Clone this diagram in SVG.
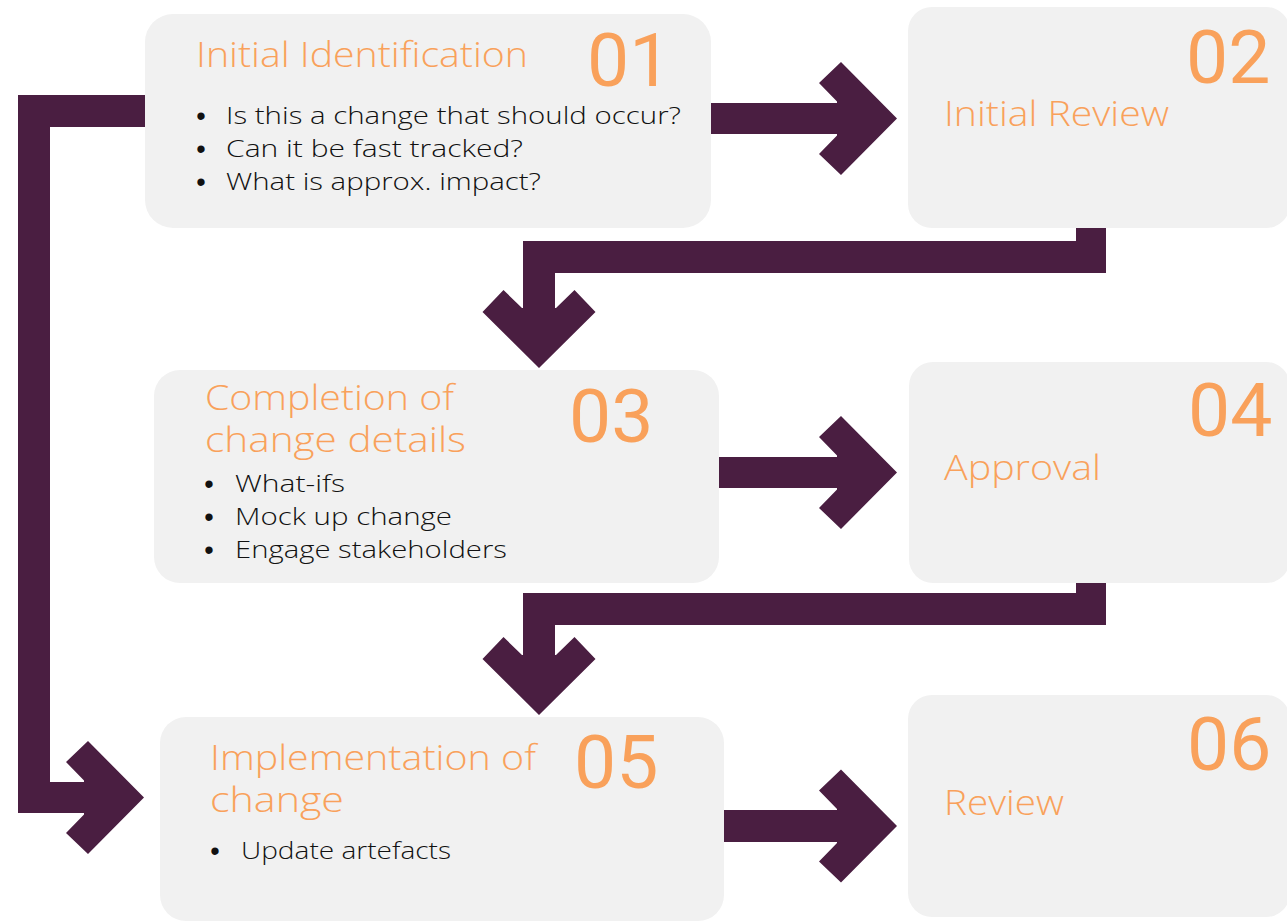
<svg xmlns="http://www.w3.org/2000/svg" xmlns:xlink="http://www.w3.org/1999/xlink" width="1287" height="923" viewBox="0 0 1287 923">
  <style>
    .box { fill: #F1F1F1; }
    .flow { fill: #4A1E41; }
    .title { font-family: "Open Sans", "Noto Sans", "DejaVu Sans", sans-serif; font-size: 34px; font-weight: 300; fill: #F9A15B; }
    .num { font-family: Roboto, "Liberation Sans", sans-serif; font-size: 75px; fill: #F9A15B; }
    .item { font-family: "Open Sans", "Noto Sans", "DejaVu Sans", sans-serif; font-size: 23px; font-weight: 300; fill: #111111; }
    .dot { font-family: "Liberation Sans", sans-serif; font-size: 27px; fill: #111111; text-anchor: middle; }
  </style>
  <defs>
    <!-- thick chevron head, pointing right, tip at the origin -->
    <path id="head" d="M0,0 L-56,-56.5 L-78,-35.5 L-60,-17 L-60,17 L-78,35.5 L-56,56.5 Z"/>
  </defs>

  <g id="connectors" class="flow">
    <!-- 01 -> 05 loop down the left side -->
    <polygon points="160,95 18,95 18,813 90,813 90,782 50,782 50,127 160,127"/>
    <use xlink:href="#head" href="#head" transform="translate(144,797.5)"/>
    <!-- 01 -> 02 -->
    <rect x="700" y="103" width="142" height="31"/>
    <use xlink:href="#head" href="#head" transform="translate(897,118.5)"/>
    <!-- 02 -> 03 -->
    <polygon points="1076,215 1106,215 1106,273 555,273 555,314 523,314 523,241 1076,241"/>
    <use xlink:href="#head" href="#head" transform="translate(539,368) rotate(90)"/>
    <!-- 03 -> 04 -->
    <rect x="705" y="457" width="137" height="31"/>
    <use xlink:href="#head" href="#head" transform="translate(897,472.5)"/>
    <!-- 04 -> 05 -->
    <polygon points="1076,570 1106,570 1106,625 555,625 555,662 523,662 523,593 1076,593"/>
    <use xlink:href="#head" href="#head" transform="translate(539,715) rotate(90)"/>
    <!-- 05 -> 06 -->
    <rect x="710" y="810" width="132" height="32"/>
    <use xlink:href="#head" href="#head" transform="translate(897,826)"/>
  </g>

  <g id="step-01">
    <rect class="box" x="145" y="14" width="566" height="214" rx="28"/>
    <text class="title" x="196" y="67" textLength="332" lengthAdjust="spacingAndGlyphs">Initial Identification</text>
    <text class="num" x="587" y="86">01</text>
    <text class="dot" x="201" y="125">•</text>
    <text class="item" x="226" y="124" textLength="455" lengthAdjust="spacingAndGlyphs">Is this a change that should occur?</text>
    <text class="dot" x="201" y="158">•</text>
    <text class="item" x="226" y="157" textLength="297" lengthAdjust="spacingAndGlyphs">Can it be fast tracked?</text>
    <text class="dot" x="201" y="191">•</text>
    <text class="item" x="226" y="190" textLength="315" lengthAdjust="spacingAndGlyphs">What is approx. impact?</text>
  </g>

  <g id="step-02">
    <rect class="box" x="908" y="7" width="382" height="221" rx="24"/>
    <text class="title" x="944" y="126" textLength="225" lengthAdjust="spacingAndGlyphs">Initial Review</text>
    <text class="num" x="1186" y="83">02</text>
  </g>

  <g id="step-03">
    <rect class="box" x="154" y="370" width="565" height="213" rx="26"/>
    <text class="title" x="205" y="410" textLength="249" lengthAdjust="spacingAndGlyphs">Completion of</text>
    <text class="title" x="205" y="452" textLength="261" lengthAdjust="spacingAndGlyphs">change details</text>
    <text class="num" x="569" y="442">03</text>
    <text class="dot" x="209" y="493">•</text>
    <text class="item" x="235" y="492" textLength="110" lengthAdjust="spacingAndGlyphs">What-ifs</text>
    <text class="dot" x="209" y="526">•</text>
    <text class="item" x="235" y="525" textLength="217" lengthAdjust="spacingAndGlyphs">Mock up change</text>
    <text class="dot" x="209" y="559">•</text>
    <text class="item" x="235" y="558" textLength="272" lengthAdjust="spacingAndGlyphs">Engage stakeholders</text>
  </g>

  <g id="step-04">
    <rect class="box" x="909" y="362" width="381" height="221" rx="24"/>
    <text class="title" x="944" y="480" textLength="157" lengthAdjust="spacingAndGlyphs">Approval</text>
    <text class="num" x="1188" y="436">04</text>
  </g>

  <g id="step-05">
    <rect class="box" x="160" y="717" width="564" height="204" rx="26"/>
    <text class="title" x="210" y="770" textLength="326" lengthAdjust="spacingAndGlyphs">Implementation of</text>
    <text class="title" x="210" y="812" textLength="134" lengthAdjust="spacingAndGlyphs">change</text>
    <text class="num" x="574" y="788">05</text>
    <text class="dot" x="215" y="860">•</text>
    <text class="item" x="241" y="859" textLength="210" lengthAdjust="spacingAndGlyphs">Update artefacts</text>
  </g>

  <g id="step-06">
    <rect class="box" x="908" y="695" width="382" height="222" rx="24"/>
    <text class="title" x="944" y="815" textLength="120" lengthAdjust="spacingAndGlyphs">Review</text>
    <text class="num" x="1187" y="770">06</text>
  </g>
</svg>
